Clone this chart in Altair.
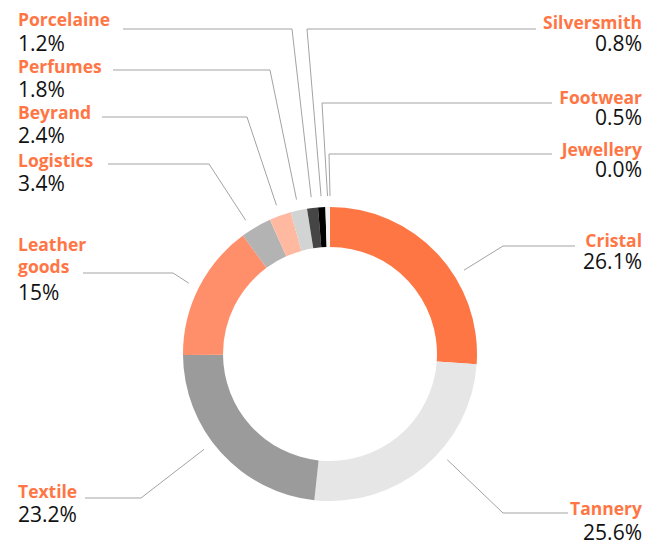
import math
import altair as alt
import pandas as pd

# ---- data ----
categories = ["Cristal", "Tannery", "Textile", "Leather goods", "Logistics", "Beyrand",
              "Perfumes", "Porcelaine", "Silversmith", "Footwear", "Jewellery"]
shares = [26.1, 25.6, 23.2, 15.0, 3.4, 2.4, 1.8, 1.2, 0.8, 0.5, 0.0]
value_texts = ["26.1%", "25.6%", "23.2%", "15%", "3.4%", "2.4%", "1.8%", "1.2%", "0.8%", "0.5%", "0.0%"]
name_texts = ["Cristal", "Tannery", "Textile", "Leather\ngoods", "Logistics", "Beyrand",
              "Perfumes", "Porcelaine", "Silversmith", "Footwear", "Jewellery"]

# ---- style / layout (chart pixel coords, page minus 8px margin) ----
slice_colors = ["#FF7645", "#E6E6E6", "#9B9B9B", "#FF8E6A", "#B3B3B3", "#FFB9A1",
                "#D2D3D3", "#454545", "#000000", "#F3F3F3", "#FFFFFF"]
CX, CY = 322, 346
R_IN, R_OUT, R_LINE = 107, 147, 158
LEFT_X, RIGHT_X = 10, 634
# side, name baseline, value baseline, leader y, leader start x, elbow x, angle nudge (deg)
label_layout = {
    "Cristal":       ("right", 239, 261, 238, 567, 495, 11),
    "Tannery":       ("right", 507, 532, 505, 560, 495, -8),
    "Textile":       ("left", 490, 514, 490, 77, 133, 5),
    "Leather goods": ("left", 243, 292, 265, 75, 165, 0),
    "Logistics":     ("left", 159, 183, 156, 100, 201, -2),
    "Beyrand":       ("left", 111, 135, 109, 94, 239, 0),
    "Perfumes":      ("left", 65, 89, 62, 105, 262, 0),
    "Porcelaine":    ("left", 18, 43, 21, 115, 284, 0),
    "Silversmith":   ("right", 21, 43, 21, 528, 299, 0),
    "Footwear":      ("right", 96, 117, 95, 544, 314, 0),
    "Jewellery":     ("right", 148, 169, 146, 544, 321, 0),
}

total = sum(shares)
arc_df = pd.DataFrame({"cat": categories, "share": shares, "idx": list(range(len(categories)))})

line_rows, text_rows = [], []
cum = 0.0
for cat, s, nt, vt in zip(categories, shares, name_texts, value_texts):
    mid = (cum + s / 2) / total * 2 * math.pi
    cum += s
    side, ny, vy, ly, lx0, ex, nudge = label_layout[cat]
    a = mid + math.radians(nudge)
    ax = CX + R_LINE * math.sin(a)
    ay = CY - R_LINE * math.cos(a)
    for i, (px, py) in enumerate([(lx0, ly), (ex, ly), (ax, ay)]):
        line_rows.append({"cat": cat, "pt": i, "px": px, "py": py})
    tx = LEFT_X if side == "left" else RIGHT_X
    text_rows.append({"cat": cat, "side": side, "name": nt, "value": vt, "tx": tx, "ny": ny, "vy": vy})

line_df = pd.DataFrame(line_rows)
text_df = pd.DataFrame(text_rows)

X = lambda f: alt.X(f, type="quantitative", scale=None, axis=None)
Y = lambda f: alt.Y(f, type="quantitative", scale=None, axis=None)

donut = alt.Chart(arc_df).mark_arc(innerRadius=R_IN, outerRadius=R_OUT, stroke=None).encode(
    theta=alt.Theta("share:Q", stack=True),
    order=alt.Order("idx:Q"),
    color=alt.Color("cat:N", scale=alt.Scale(domain=categories, range=slice_colors), legend=None),
    x=alt.value(CX),
    y=alt.value(CY),
)

leaders = alt.Chart(line_df).mark_line(color="#A3A3A3", strokeWidth=1).encode(
    x=X("px"), y=Y("py"), detail="cat:N", order="pt:Q"
)

layers = [leaders, donut]
for side, align in [("left", "left"), ("right", "right")]:
    base = alt.Chart(text_df).transform_filter(alt.datum.side == side)
    layers.append(base.mark_text(align=align, baseline="alphabetic", font="Open Sans", fontSize=17.5,
                                 fontWeight="bold", color="#FF7645", lineBreak="\n", lineHeight=22).encode(
        x=X("tx"), y=Y("ny"), text="name:N"))
    layers.append(base.mark_text(align=align, baseline="alphabetic", font="Open Sans", fontSize=21,
                                 color="#111111").encode(
        x=X("tx"), y=Y("vy"), text="value:N"))

chart = alt.layer(*layers).properties(
    width=638, height=533, padding=0, autosize=alt.AutoSizeParams(type="none")
).configure_view(stroke=None)

chart.save("out.html", embed_options={"renderer": "svg", "actions": False})
